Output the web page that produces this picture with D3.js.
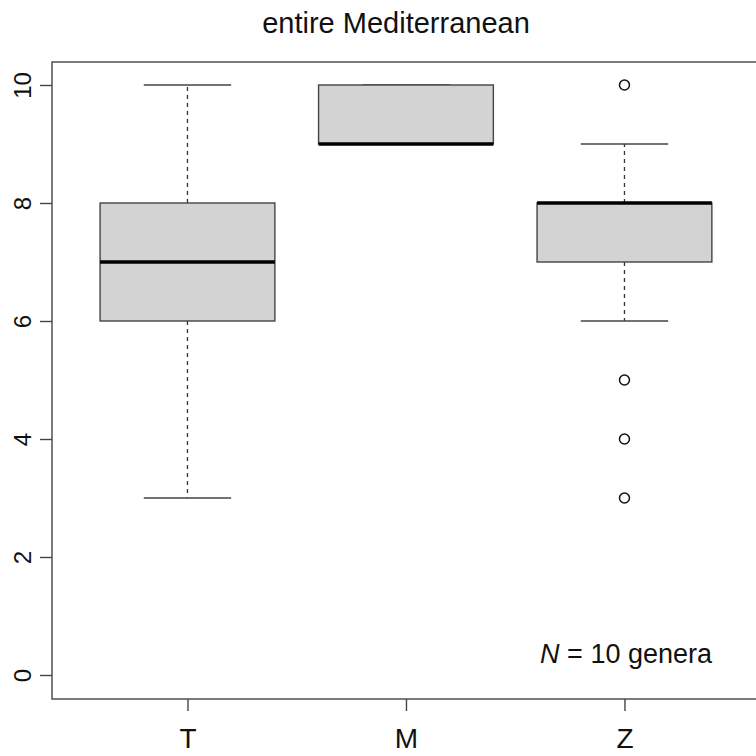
<!DOCTYPE html>
<html><head><meta charset="utf-8">
<script src="https://cdn.jsdelivr.net/npm/d3@7"></script>
<style>body{margin:0;background:#fff}svg{display:block;font-family:"Liberation Sans",Arial,sans-serif}</style>
</head><body>
<div id="chart"></div>
<script>
const categories = ["T", "M", "Z"];
const lowerWhisker = [3, 9, 6];
const q1 = [6, 9, 7];
const median = [7, 9, 8];
const q3 = [8, 10, 8];
const upperWhisker = [10, 10, 9];
const outliers = [[], [], [10, 5, 4, 3]];
const yTicks = [0, 2, 4, 6, 8, 10];
const title = "entire Mediterranean";

const W = 756, H = 756;
const plot = {left: 52, top: 62, bottom: 699};
const svg = d3.select("#chart").append("svg").attr("width", W).attr("height", H);

const x = d3.scaleLinear().domain([0.38, 3.62]).range([plot.left, plot.left + 3.24 * 218.5]);
const y = d3.scaleLinear().domain([0, 10]).range([675, 85]);
const unit = x(2) - x(1);
const FONT = '"Liberation Sans",Arial,sans-serif';

// plot frame
svg.append("rect").attr("x", plot.left).attr("y", plot.top)
  .attr("width", x(3.62) - plot.left).attr("height", plot.bottom - plot.top)
  .attr("fill", "none").attr("stroke", "#444").attr("stroke-width", 1.4);

// y axis
const yAxis = d3.axisLeft(y).tickValues(yTicks).tickSize(12).tickFormat(d3.format("d"));
const ya = svg.append("g").attr("transform", `translate(${plot.left},0)`).call(yAxis);
ya.select(".domain").remove();
ya.selectAll("line").attr("stroke", "#444").attr("stroke-width", 1.4);
ya.selectAll("text").attr("font-size", 24).attr("fill", "#111").attr("font-family", FONT)
  .attr("text-anchor", "middle").attr("x", 0).attr("y", 0).attr("dy", "0.36em")
  .attr("transform", "translate(-30,0) rotate(-90)");

// x axis
const xAxis = d3.axisBottom(x).tickValues([1, 2, 3]).tickSize(12).tickFormat(d => categories[d - 1]);
const xa = svg.append("g").attr("transform", `translate(0,${plot.bottom})`).call(xAxis);
xa.select(".domain").remove();
xa.selectAll("line").attr("stroke", "#444").attr("stroke-width", 1.4);
xa.selectAll("text").attr("font-size", 28).attr("fill", "#111").attr("font-family", FONT)
  .attr("y", 49).attr("dy", 0);

// boxes
const g = svg.append("g");
categories.forEach((c, i) => {
  const cx = x(i + 1);
  const bw = 0.8 * unit, cw = 0.4 * unit;
  if (upperWhisker[i] > q3[i]) {
    g.append("line").attr("x1", cx).attr("x2", cx).attr("y1", y(q3[i])).attr("y2", y(upperWhisker[i]))
      .attr("stroke", "#333").attr("stroke-width", 1.3).attr("stroke-dasharray", "4,4");
  }
  if (lowerWhisker[i] < q1[i]) {
    g.append("line").attr("x1", cx).attr("x2", cx).attr("y1", y(q1[i])).attr("y2", y(lowerWhisker[i]))
      .attr("stroke", "#333").attr("stroke-width", 1.3).attr("stroke-dasharray", "4,4");
  }
  [lowerWhisker[i], upperWhisker[i]].forEach(v => {
    g.append("line").attr("x1", cx - cw / 2).attr("x2", cx + cw / 2).attr("y1", y(v)).attr("y2", y(v))
      .attr("stroke", "#444").attr("stroke-width", 1.4);
  });
  g.append("rect").attr("x", cx - bw / 2).attr("y", y(q3[i])).attr("width", bw)
    .attr("height", y(q1[i]) - y(q3[i])).attr("fill", "#d3d3d3").attr("stroke", "#444").attr("stroke-width", 1.4);
  g.append("line").attr("x1", cx - bw / 2).attr("x2", cx + bw / 2).attr("y1", y(median[i])).attr("y2", y(median[i]))
    .attr("stroke", "#000").attr("stroke-width", 3.5);
  outliers[i].forEach(v => {
    g.append("circle").attr("cx", cx).attr("cy", y(v)).attr("r", 5)
      .attr("fill", "none").attr("stroke", "#111").attr("stroke-width", 1.5);
  });
});

// title
svg.append("text").attr("x", 396).attr("y", 33).attr("text-anchor", "middle")
  .attr("font-size", 29).attr("fill", "#111").text(title);

// annotation
const ann = svg.append("text").attr("x", 712).attr("y", 663).attr("text-anchor", "end")
  .attr("font-size", 27).attr("fill", "#111");
ann.append("tspan").attr("font-style", "italic").text("N");
ann.append("tspan").text(" = 10 genera");
</script>
</body></html>
